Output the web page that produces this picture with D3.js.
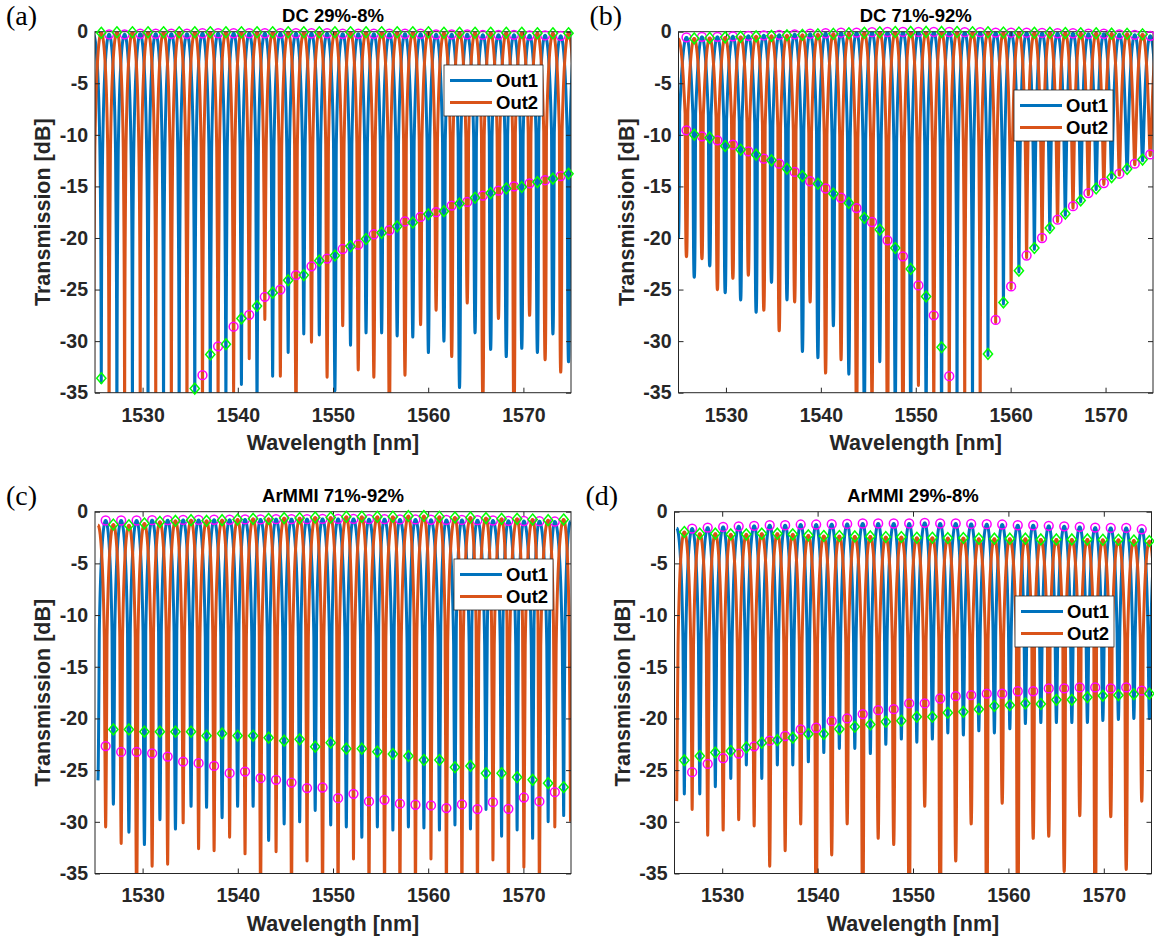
<!DOCTYPE html>
<html>
<head>
<meta charset="utf-8">
<script src="https://cdn.jsdelivr.net/npm/d3@7"></script>
<style>
body { margin: 0; background: #fff; }
svg { display: block; }
</style>
</head>
<body>
<script>
var xTicks = [1530, 1540, 1550, 1560, 1570];
var yTicks = [-35, -30, -25, -20, -15, -10, -5, 0];
var seriesNames = ["Out1", "Out2"];
var colors = ["#0072BD", "#D95319"];

// circles: Out1 peak (top) and Out2 fringe minimum (bottom) at the same wavelength
// diamonds: Out2 peak (top) and Out1 fringe minimum (bottom)
// s1 / s2: how deep the narrow Out1 / Out2 notch goes at each minimum

// (a) DC 29%-8%
var xc_a = [1524.84,1526.48,1528.11,1529.75,1531.38,1533.02,1534.66,1536.29,1537.93,1539.56,1541.20,1542.84,1544.47,1546.11,1547.74,1549.38,1551.02,1552.65,1554.29,1555.92,1557.56,1559.20,1560.83,1562.47,1564.10,1565.74,1567.38,1569.01,1570.65,1572.28,1573.92,1575.56];
var ct_a = [-0.3,-0.25,-0.25,-0.2,-0.2,-0.2,-0.2,-0.15,-0.15,-0.15,-0.15,-0.15,-0.15,-0.15,-0.15,-0.15,-0.2,-0.2,-0.2,-0.2,-0.2,-0.2,-0.25,-0.25,-0.25,-0.3,-0.3,-0.3,-0.35,-0.35,-0.4,-0.4];
var cb_a = [-33,-36,-38,-40,-40,-38,-36,-33.3,-30.5,-28.6,-27.45,-25.7,-25.0,-23.6,-22.75,-22.0,-21.07,-20.65,-19.64,-19.25,-18.4,-17.96,-17.5,-16.86,-16.5,-15.9,-15.4,-15.0,-14.7,-14.4,-14.0,-13.7];
var s2_a = [-36,-40,-40,-40,-40,-40,-40,-38,-36,-35,-31.7,-27.9,-33.4,-38,-30.1,-33.5,-28.5,-32.8,-33.5,-38,-33.3,-28.4,-27,-31.5,-26.3,-36,-27.8,-38,-27.5,-31.8,-33,-30];
var xd_a = [1525.66,1527.30,1528.93,1530.57,1532.20,1533.84,1535.48,1537.11,1538.75,1540.38,1542.02,1543.66,1545.29,1546.93,1548.56,1550.20,1551.84,1553.47,1555.11,1556.74,1558.38,1560.02,1561.65,1563.29,1564.92,1566.56,1568.20,1569.83,1571.47,1573.10,1574.74];
var dt_a = [-0.1,-0.05,-0.05,-0.05,-0.05,-0.05,-0.05,-0.05,-0.05,-0.05,-0.05,-0.05,-0.05,-0.05,-0.05,-0.05,-0.05,-0.05,-0.05,-0.05,-0.05,-0.05,-0.1,-0.1,-0.1,-0.1,-0.1,-0.1,-0.15,-0.15,-0.15];
var db_a = [-33.6,-37,-40,-40,-39,-37,-34.6,-31.3,-30.3,-27.8,-26.6,-25.3,-24.1,-23.6,-22.2,-21.7,-20.8,-20.1,-19.5,-18.87,-18.5,-17.7,-17.4,-16.66,-16.1,-15.65,-15.2,-15.06,-14.58,-14.25,-13.77];
var s1_a = [-34,-40,-40,-40,-40,-40,-38,-37,-36,-34.2,-36,-33.4,-31.1,-29.3,-29.4,-34.8,-30.4,-29.2,-29.2,-29.5,-29.6,-31.1,-30.0,-34.5,-29.2,-30.8,-31.5,-30.7,-31.1,-29.3,-32];

// (b) DC 71%-92%
var xc_b = [1525.84,1527.47,1529.10,1530.73,1532.36,1533.99,1535.61,1537.24,1538.87,1540.50,1542.13,1543.76,1545.39,1547.02,1548.65,1550.28,1551.90,1553.53,1555.16,1556.79,1558.42,1560.05,1561.68,1563.31,1564.94,1566.57,1568.19,1569.82,1571.45,1573.08,1574.71];
var ct_b = [-0.55,-0.5,-0.5,-0.45,-0.4,-0.35,-0.3,-0.25,-0.2,-0.15,-0.1,-0.08,-0.05,-0.03,-0.02,-0.02,-0.02,-0.03,-0.05,-0.05,-0.08,-0.1,-0.1,-0.12,-0.15,-0.15,-0.2,-0.2,-0.25,-0.3,-0.4];
var cb_b = [-9.56,-10.14,-10.53,-10.95,-11.6,-12.31,-12.8,-13.6,-14.5,-15.2,-16.1,-17.1,-18.45,-20.23,-21.78,-24.6,-27.5,-33.4,-38,-37,-27.94,-24.7,-21.7,-20.0,-18.22,-16.92,-15.65,-14.67,-13.77,-12.8,-11.9];
var s2_b = [-21.8,-22.0,-25.0,-23.9,-23.6,-27.0,-29.0,-26.2,-26.2,-33.1,-31.8,-38,-36,-40,-40,-34.3,-37,-40,-40,-40,-28.2,-24.9,-21.9,-20.2,-18.4,-17.1,-15.8,-14.8,-13.9,-12.9,-12.0];
var xd_b = [1524.98,1526.66,1528.29,1529.92,1531.55,1533.18,1534.80,1536.43,1538.06,1539.69,1541.32,1542.95,1544.58,1546.21,1547.84,1549.47,1551.09,1552.72,1554.35,1555.98,1557.61,1559.24,1560.87,1562.50,1564.13,1565.76,1567.38,1569.01,1570.64,1572.27,1573.90,1575.53];
var dt_b = [-0.7,-0.65,-0.6,-0.55,-0.5,-0.45,-0.4,-0.35,-0.3,-0.25,-0.2,-0.15,-0.1,-0.05,-0.03,-0.02,-0.02,-0.02,-0.03,-0.05,-0.05,-0.08,-0.08,-0.1,-0.1,-0.12,-0.15,-0.15,-0.18,-0.2,-0.25,-0.3];
var db_b = [-9.3,-9.98,-10.27,-11.08,-11.44,-11.92,-12.47,-13.28,-14.0,-14.74,-15.7,-16.6,-18.05,-19.19,-20.97,-23.0,-25.67,-30.6,-38,-38,-31.24,-26.25,-23.17,-20.97,-19.03,-17.64,-16.36,-15.2,-14.1,-13.3,-12.4,-11.6];
var s1_b = [-20,-23.8,-22.7,-25.3,-26.0,-27.2,-24.3,-26.0,-31.0,-31.6,-28.5,-33.2,-37,-32,-37,-38,-38,-40,-40,-40,-31.4,-26.4,-23.3,-21.1,-19.2,-17.8,-16.5,-15.3,-14.2,-13.4,-12.5,-11.7];

// (c) ArMMI 71%-92%
var xc_c = [1526.12,1527.75,1529.37,1531.00,1532.63,1534.26,1535.88,1537.51,1539.14,1540.76,1542.39,1544.02,1545.64,1547.27,1548.90,1550.53,1552.15,1553.78,1555.41,1557.03,1558.66,1560.29,1561.91,1563.54,1565.17,1566.80,1568.42,1570.05,1571.68,1573.30,1574.95];
var ct_c = [-0.85,-0.85,-0.85,-0.82,-0.82,-0.8,-0.8,-0.78,-0.78,-0.75,-0.75,-0.72,-0.72,-0.72,-0.7,-0.7,-0.7,-0.72,-0.72,-0.75,-0.75,-0.78,-0.8,-0.8,-0.82,-0.85,-0.88,-0.9,-0.92,-0.95,-0.95];
var cb_c = [-22.67,-23.24,-23.24,-23.37,-23.69,-24.17,-24.33,-24.59,-25.30,-25.14,-25.78,-25.94,-26.20,-26.74,-26.68,-27.71,-27.29,-28.03,-27.87,-28.25,-28.35,-28.42,-28.67,-28.32,-28.77,-28.10,-28.74,-27.65,-28.03,-27.13,-27.0];
var s2_c = [-30.5,-32.1,-38,-34.3,-34.1,-30.1,-32.6,-32.8,-31.5,-33.1,-38,-32.9,-38,-33.8,-38,-38,-33.6,-38,-38,-38,-38,-33.6,-38,-38,-38,-33.7,-38,-34.4,-38,-30.5,-30];
var xd_c = [1525.31,1526.93,1528.56,1530.19,1531.82,1533.45,1535.09,1536.72,1538.35,1539.98,1541.61,1543.24,1544.87,1546.50,1548.13,1549.76,1551.40,1553.03,1554.66,1556.29,1557.92,1559.55,1561.18,1562.81,1564.44,1566.07,1567.71,1569.34,1570.97,1572.60,1574.23];
var dt_c = [-1.3,-1.24,-1.31,-1.14,-0.98,-0.88,-0.82,-0.88,-0.82,-0.75,-0.69,-0.69,-0.62,-0.62,-0.56,-0.56,-0.49,-0.49,-0.49,-0.49,-0.42,-0.42,-0.49,-0.56,-0.56,-0.62,-0.69,-0.69,-0.75,-0.82,-0.75];
var db_c = [-20.5,-21.06,-21.06,-21.28,-21.28,-21.28,-21.28,-21.67,-21.45,-21.67,-21.67,-21.86,-22.15,-22.02,-22.73,-22.34,-22.92,-22.92,-23.21,-23.44,-23.63,-24.02,-24.02,-24.72,-24.59,-25.30,-25.30,-25.69,-25.94,-26.26,-26.65];
var s1_c = [-26,-28.3,-31.0,-32.2,-29.8,-30.7,-28.5,-28.6,-29.6,-28.5,-28.5,-31.8,-30.2,-30.0,-28.9,-30.3,-30.5,-31.5,-30.5,-30.8,-30.5,-30.6,-30.8,-30.3,-30.7,-28.8,-31.4,-30.8,-31.6,-30.0,-29.4];

// (d) ArMMI 29%-8%
var xc_d = [1525.23,1526.85,1528.48,1530.10,1531.73,1533.35,1534.98,1536.60,1538.23,1539.85,1541.48,1543.10,1544.73,1546.35,1547.98,1549.60,1551.23,1552.85,1554.48,1556.10,1557.73,1559.35,1560.98,1562.60,1564.23,1565.85,1567.48,1569.10,1570.73,1572.35,1573.98,1575.60];
var ct_d = [-1.6,-1.63,-1.54,-1.47,-1.41,-1.37,-1.31,-1.31,-1.24,-1.24,-1.21,-1.18,-1.14,-1.14,-1.14,-1.14,-1.08,-1.14,-1.14,-1.18,-1.21,-1.24,-1.31,-1.31,-1.37,-1.41,-1.47,-1.54,-1.57,-1.57,-1.70,-1.75];
var cb_d = [-26,-25.2,-24.4,-23.85,-23.4,-22.7,-22.15,-21.7,-21.06,-20.9,-20.26,-20.0,-19.58,-19.2,-19.1,-18.55,-18.55,-18.07,-17.85,-17.75,-17.6,-17.6,-17.37,-17.37,-17.1,-17.1,-17.0,-17.0,-17.1,-17.0,-17.3,-17.3];
var s2_d = [-28,-28.8,-31.3,-30.8,-29.8,-30.4,-34.3,-32.8,-30.2,-40,-33.2,-30.2,-40,-31.6,-32.2,-40,-28.5,-40,-33.8,-30.2,-40,-28.2,-40,-31.6,-31.4,-34.8,-29.4,-40,-29.5,-34.6,-28.0,-28];
var xd_d = [1526.03,1527.65,1529.28,1530.90,1532.53,1534.15,1535.78,1537.40,1539.03,1540.65,1542.28,1543.90,1545.53,1547.15,1548.78,1550.40,1552.03,1553.65,1555.28,1556.90,1558.53,1560.15,1561.78,1563.40,1565.03,1566.65,1568.28,1569.90,1571.53,1573.15,1574.78];
var dt_d = [-1.96,-2.12,-2.12,-2.19,-2.19,-2.12,-2.12,-2.19,-2.29,-2.35,-2.35,-2.39,-2.39,-2.45,-2.45,-2.52,-2.52,-2.55,-2.55,-2.61,-2.61,-2.61,-2.61,-2.68,-2.68,-2.68,-2.68,-2.71,-2.71,-2.78,-2.84];
var db_d = [-24.05,-23.63,-23.3,-23.15,-22.8,-22.35,-22.1,-21.86,-21.5,-21.5,-21.03,-20.8,-20.58,-20.32,-20.22,-19.84,-19.84,-19.45,-19.36,-19.1,-18.8,-18.72,-18.55,-18.6,-18.2,-18.2,-17.95,-17.8,-17.75,-17.65,-17.6];
var s1_d = [-27.3,-27.3,-26.6,-25.8,-24.5,-25.8,-24.5,-24.5,-24.2,-23.3,-22.9,-22.9,-23.4,-22.5,-22.0,-22.3,-22.0,-21.4,-21.6,-21.2,-21.4,-21.0,-20.5,-20.4,-20.4,-20.4,-20.4,-20.2,-20.1,-20.0,-20.0];

var panels = [
  {tag: "(a)", title: "DC 29%-8%", xc: xc_a, ct: ct_a, cb: cb_a, s2: s2_a, xd: xd_a, dt: dt_a, db: db_a, s1: s1_a,
   left: 95, right: 571, top: 31.7, bottom: 392.7, legX: 444, legY: 65},
  {tag: "(b)", title: "DC 71%-92%", xc: xc_b, ct: ct_b, cb: cb_b, s2: s2_b, xd: xd_b, dt: dt_b, db: db_b, s1: s1_b,
   left: 678.5, right: 1153, top: 31.7, bottom: 392.7, legX: 1014, legY: 90},
  {tag: "(c)", title: "ArMMI 71%-92%", xc: xc_c, ct: ct_c, cb: cb_c, s2: s2_c, xd: xd_c, dt: dt_c, db: db_c, s1: s1_c,
   left: 95, right: 571, top: 511.7, bottom: 873.5, legX: 454, legY: 559},
  {tag: "(d)", title: "ArMMI 29%-8%", xc: xc_d, ct: ct_d, cb: cb_d, s2: s2_d, xd: xd_d, dt: dt_d, db: db_d, s1: s1_d,
   left: 674.5, right: 1151.5, top: 511.7, bottom: 873.5, legX: 1015, legY: 596}
];

var width = 1154, height = 940;
var notch = 0.14; // half width of the narrow notch, nm

var svg = d3.select("body").append("svg")
  .attr("width", width)
  .attr("height", height)
  .style("font-family", "'Liberation Sans', Arial, sans-serif");

// fringe drawn between the peaks and minima
function fringe(px, py, dx, dy, ds) {
  var v = [];
  px.forEach(function(x, i) { v.push({x: x, y: py[i], dip: false}); });
  dx.forEach(function(x, i) { v.push({x: x, y: dy[i], s: ds[i], dip: true}); });
  v.sort(function(a, b) { return a.x - b.x; });
  var pts = [];
  for (var i = 0; i < v.length - 1; i++) {
    var A = v[i], B = v[i + 1];
    var P = A.dip ? B : A, D = A.dip ? A : B;
    var tp = Math.pow(10, P.y / 10), td = Math.pow(10, D.y / 10);
    var n = 90;
    for (var j = 0; j < n; j++) {
      var x = A.x + (B.x - A.x) * j / n;
      var w = Math.abs(x - P.x) / Math.abs(D.x - P.x);
      var c = Math.cos(Math.PI / 2 * w);
      var val = 10 * Math.log10(td + (tp - td) * c * c);
      var dd = Math.abs(x - D.x) / notch;
      if (dd < 1) val += (D.s - D.y) * (1 - dd * dd * dd);
      pts.push([x, val]);
    }
  }
  var last = v[v.length - 1];
  pts.push([last.x, last.dip ? last.s : last.y]);
  return pts;
}

function drawPanel(p, k) {
  var x = d3.scaleLinear().domain([1525, 1575]).range([p.left, p.right]);
  var y = d3.scaleLinear().domain([-35, 0]).range([p.bottom, p.top]);
  var g = svg.append("g");

  g.append("clipPath").attr("id", "clip" + k)
    .append("rect")
    .attr("x", p.left).attr("y", p.top)
    .attr("width", p.right - p.left).attr("height", p.bottom - p.top);

  var line = d3.line().x(function(d) { return x(d[0]); }).y(function(d) { return y(d[1]); });

  var out1 = fringe(p.xc, p.ct, p.xd, p.db, p.s1);
  var out2 = fringe(p.xd, p.dt, p.xc, p.cb, p.s2);

  var plot = g.append("g").attr("clip-path", "url(#clip" + k + ")");
  [out1, out2].forEach(function(s, i) {
    plot.append("path")
      .datum(s)
      .attr("d", line)
      .attr("fill", "none")
      .attr("stroke", colors[i])
      .attr("stroke-width", 3)
      .attr("stroke-linejoin", "round");
  });

  // axes box and inward ticks
  var ax = g.append("g").attr("color", "#262626");
  ax.append("g").attr("transform", "translate(0," + p.bottom + ")")
    .call(d3.axisBottom(x).tickValues(xTicks).tickSize(-5).tickSizeOuter(0).tickPadding(15).tickFormat(function(d) { return d; }));
  ax.append("g").attr("transform", "translate(0," + p.top + ")")
    .call(d3.axisTop(x).tickValues(xTicks).tickSize(-5).tickSizeOuter(0).tickFormat(""));
  ax.append("g").attr("transform", "translate(" + p.left + ",0)")
    .call(d3.axisLeft(y).tickValues(yTicks).tickSize(-5).tickSizeOuter(0).tickPadding(7).tickFormat(function(d) { return d; }));
  ax.append("g").attr("transform", "translate(" + p.right + ",0)")
    .call(d3.axisRight(y).tickValues(yTicks).tickSize(-5).tickSizeOuter(0).tickFormat(""));
  ax.selectAll(".domain").remove();
  ax.selectAll("text")
    .attr("font-size", 19.5)
    .attr("font-weight", "bold")
    .attr("font-family", "'Liberation Sans', Arial, sans-serif")
    .attr("fill", "#262626");
  g.append("rect")
    .attr("x", p.left).attr("y", p.top)
    .attr("width", p.right - p.left).attr("height", p.bottom - p.top)
    .attr("fill", "none").attr("stroke", "#262626").attr("stroke-width", 1);

  // markers
  var inX = function(v) { return v >= 1525.5 && v <= 1574.9; };
  var inY = function(v) { return v >= -35 && v <= 0.5; };
  var circ = [], dia = [];
  p.xc.forEach(function(v, i) {
    if (!inX(v)) return;
    if (inY(p.ct[i])) circ.push([v, p.ct[i]]);
    if (inY(p.cb[i])) circ.push([v, p.cb[i]]);
  });
  p.xd.forEach(function(v, i) {
    if (!inX(v)) return;
    if (inY(p.dt[i])) dia.push([v, p.dt[i]]);
    if (inY(p.db[i])) dia.push([v, p.db[i]]);
  });
  g.selectAll(".circ").data(circ).enter().append("circle")
    .attr("cx", function(d) { return x(d[0]); })
    .attr("cy", function(d) { return y(d[1]); })
    .attr("r", 4.4)
    .attr("fill", "none").attr("stroke", "#FF00FF").attr("stroke-width", 1.5);
  g.selectAll(".dia").data(dia).enter().append("path")
    .attr("transform", function(d) { return "translate(" + x(d[0]) + "," + y(d[1]) + ")"; })
    .attr("d", "M0,-5.4L4.6,0L0,5.4L-4.6,0Z")
    .attr("fill", "none").attr("stroke", "#00FF00").attr("stroke-width", 1.5);

  // legend
  var lg = g.append("g").attr("transform", "translate(" + p.legX + "," + p.legY + ")");
  lg.append("rect").attr("width", 99).attr("height", 51)
    .attr("fill", "#fff").attr("stroke", "#262626").attr("stroke-width", 0.8);
  seriesNames.forEach(function(name, i) {
    var yy = 15.5 + i * 22;
    lg.append("line").attr("x1", 6).attr("x2", 48).attr("y1", yy).attr("y2", yy)
      .attr("stroke", colors[i]).attr("stroke-width", 3);
    lg.append("text").attr("x", 52).attr("y", yy + 6.5)
      .attr("font-size", 18.5).attr("font-weight", "bold").attr("fill", "#000")
      .text(name);
  });

  // titles and labels
  g.append("text")
    .attr("x", (p.left + p.right) / 2).attr("y", p.top - 9.5)
    .attr("text-anchor", "middle").attr("font-size", 18.5).attr("font-weight", "bold")
    .text(p.title);
  g.append("text")
    .attr("x", (p.left + p.right) / 2).attr("y", p.bottom + 57)
    .attr("text-anchor", "middle").attr("font-size", 21.5).attr("font-weight", "bold")
    .attr("fill", "#262626")
    .text("Wavelength [nm]");
  g.append("text")
    .attr("transform", "translate(" + (p.left - 45) + "," + ((p.top + p.bottom) / 2) + ") rotate(-90)")
    .attr("text-anchor", "middle").attr("font-size", 21.5).attr("font-weight", "bold")
    .attr("fill", "#262626")
    .text("Transmission [dB]");
  g.append("text")
    .attr("x", p.left - 89).attr("y", p.top - 7)
    .attr("font-family", "'Liberation Serif', 'Times New Roman', serif")
    .attr("font-size", 28)
    .text(p.tag);
}

panels.forEach(drawPanel);
</script>
</body>
</html>
